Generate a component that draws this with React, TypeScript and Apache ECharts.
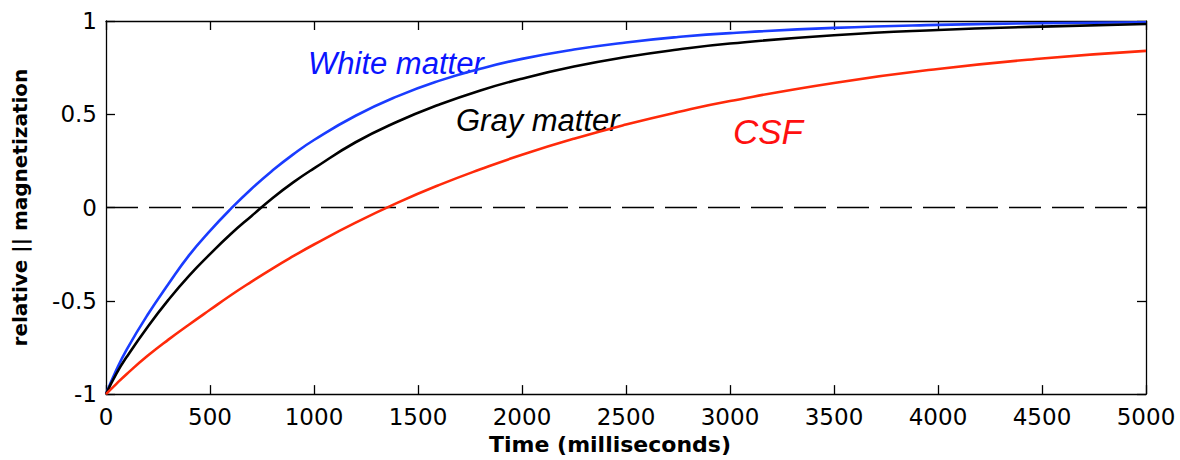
import React, { useEffect, useRef } from "react";
import * as echarts from "echarts";

const times = [0, 50, 100, 200, 300, 400, 500, 600, 700, 800, 900, 1000, 1200, 1400, 1600, 1800, 2000, 2250, 2500, 2750, 3000, 3500, 4000, 4500, 5000];
const whiteMatter = [-1.0, -0.87, -0.76, -0.575, -0.41, -0.255, -0.125, -0.007, 0.101, 0.198, 0.285, 0.362, 0.492, 0.596, 0.679, 0.744, 0.797, 0.847, 0.885, 0.914, 0.935, 0.963, 0.979, 0.988, 0.993];
const grayMatter = [-1.0, -0.89, -0.8, -0.64, -0.495, -0.365, -0.25, -0.142, -0.045, 0.05, 0.135, 0.21, 0.35, 0.46, 0.551, 0.628, 0.691, 0.756, 0.807, 0.847, 0.879, 0.924, 0.952, 0.97, 0.984];
const csf = [-1.0, -0.945, -0.892, -0.795, -0.708, -0.627, -0.548, -0.47, -0.397, -0.327, -0.261, -0.198, -0.081, 0.025, 0.12, 0.205, 0.283, 0.369, 0.445, 0.512, 0.571, 0.668, 0.743, 0.799, 0.84];

const xTicks = { min: 0, max: 5000, interval: 500 };
const yTicks = { min: -1, max: 1, interval: 0.5 };

const seriesNames = ["White matter", "Gray matter", "CSF"];
const lineColors = ["#1a3cff", "#000000", "#ff2a0a"];

export default function App() {
  const ref = useRef<HTMLDivElement>(null);
  useEffect(() => {
    if (!ref.current) return;
    const chart = echarts.init(ref.current, undefined, { renderer: "svg" });
    const tickFont = { fontFamily: "DejaVu Sans", fontSize: 23, color: "#000" };
    const axisLine = { show: true, onZero: false, lineStyle: { color: "#000", width: 1.3 } };
    const axisTick = { show: true, inside: true, length: 9, lineStyle: { color: "#000", width: 1.3 } };
    const mk = (vals: number[]) => times.map((t, i) => [t, vals[i]]);
    const datasets = [whiteMatter, grayMatter, csf];
    const plain = (v: number) => String(v);
    chart.setOption({
      animation: false,
      backgroundColor: "#fff",
      grid: { left: 106, right: 34, top: 21, bottom: 59 },
      xAxis: [
        {
          type: "value",
          ...xTicks,
          position: "bottom",
          axisLine,
          axisTick,
          splitLine: { show: false },
          axisLabel: { ...tickFont, margin: 11, formatter: plain },
          name: "Time (milliseconds)",
          nameLocation: "middle",
          nameGap: 38,
          nameTextStyle: { fontFamily: "DejaVu Sans", fontWeight: "bold", fontSize: 22, color: "#000", padding: [0, 32, 0, 0] },
        },
        {
          type: "value",
          ...xTicks,
          position: "top",
          axisLine,
          axisTick,
          splitLine: { show: false },
          axisLabel: { show: false },
        },
      ],
      yAxis: [
        {
          type: "value",
          ...yTicks,
          position: "left",
          axisLine,
          axisTick,
          splitLine: { show: false },
          axisLabel: { ...tickFont, margin: 9, formatter: plain },
          name: "relative || magnetization",
          nameLocation: "middle",
          nameGap: 76,
          nameTextStyle: { fontFamily: "DejaVu Sans", fontWeight: "bold", fontSize: 20, color: "#000" },
        },
        {
          type: "value",
          ...yTicks,
          position: "right",
          axisLine,
          axisTick,
          splitLine: { show: false },
          axisLabel: { show: false },
        },
      ],
      series: datasets.map((vals, i) => ({
        name: seriesNames[i],
        type: "line",
        xAxisIndex: 0,
        yAxisIndex: 0,
        data: mk(vals),
        smooth: 0.5,
        showSymbol: false,
        symbol: "none",
        lineStyle: { color: lineColors[i], width: 2.6 },
        z: 3 + i,
        markLine:
          i === 0
            ? {
                silent: true,
                symbol: "none",
                label: { show: false },
                lineStyle: { color: "#000", width: 1.3, type: [32, 11] },
                data: [{ yAxis: 0 }],
                z: 1,
              }
            : undefined,
      })),
      graphic: [
        {
          type: "text",
          x: 308,
          y: 63,
          style: { text: "White matter", font: "italic 31px 'Liberation Sans', Arial, sans-serif", fill: "#0a14ff", textVerticalAlign: "middle" },
        },
        {
          type: "text",
          x: 456,
          y: 120,
          style: { text: "Gray matter", font: "italic 31px 'Liberation Sans', Arial, sans-serif", fill: "#000", textVerticalAlign: "middle" },
        },
        {
          type: "text",
          x: 733,
          y: 131,
          style: { text: "CSF", font: "italic 35px 'Liberation Sans', Arial, sans-serif", fill: "#ff1010", textVerticalAlign: "middle" },
        },
      ],
    });
    return () => chart.dispose();
  }, []);
  return <div ref={ref} style={{ position: "fixed", left: 0, top: 0, width: 1180, height: 460, background: "#fff" }} />;
}
